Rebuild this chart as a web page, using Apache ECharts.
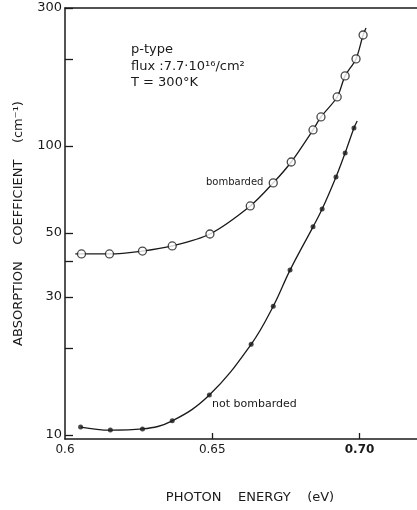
<!DOCTYPE html>
<html lang="en">
<head>
    <meta charset="UTF-8">
    <title>Absorption coefficient vs photon energy</title>
    <script src="https://cdn.jsdelivr.net/npm/echarts@6/dist/echarts.min.js"></script>
</head>
<style>
    html, body { margin: 0; padding: 0; background: #fff; }
    #chart { width: 417px; height: 510px; }
</style>
<body>
<div id="chart"></div>
<script>
    // photon energy (eV) / absorption coefficient (cm^-1)
    var bombX = [0.6056, 0.6151, 0.6263, 0.6364, 0.6492, 0.6629, 0.6707, 0.6768, 0.6842, 0.6869, 0.6924, 0.6951, 0.6988, 0.7012];
    var bombY = [42.3, 42.3, 43.3, 45.1, 49.6, 62.0, 74.5, 88.0, 113.6, 126, 147.7, 174.7, 200, 242];
    var notX = [0.6053, 0.6154, 0.6263, 0.6364, 0.6490, 0.6632, 0.6707, 0.6764, 0.6842, 0.6873, 0.6920, 0.6951, 0.6981];
    var notY = [10.66, 10.4, 10.5, 11.2, 13.75, 20.6, 27.9, 37.2, 52.5, 60.5, 78.1, 94.6, 115.4];
    // ends of the drawn fit curves
    var bombEnds = [[0.6035, 42.3], [0.7022, 256]];
    var notEnds = [[0.6053, 10.66], [0.6992, 122]];

    var xTicks = [0.65, 0.70];
    var xLabels = [0.6, 0.65, 0.70];
    var yTicks = [10, 20, 30, 40, 50, 100, 200, 300];
    var yLabels = [10, 30, 50, 100, 300];

    function pairs(xs, ys) {
        var out = [];
        for (var i = 0; i < xs.length; i++) out.push([xs[i], ys[i]]);
        return out;
    }
    var bombPts = pairs(bombX, bombY);
    var notPts = pairs(notX, notY);
    var bombCurve = [bombEnds[0]].concat(bombPts, [bombEnds[1]]);
    var notCurve = notPts.concat([notEnds[1]]);

    var ink = '#1a1a1a';
    var font = 'DejaVu Sans';
    var chart = echarts.init(document.getElementById('chart'));
    var option = {
        animation: false,
        backgroundColor: '#fff',
        grid: { left: 65, right: 0, top: 8, bottom: 71 },
        xAxis: [{
            type: 'value',
            min: 0.6,
            max: 0.7195,
            axisLine: { lineStyle: { color: ink, width: 1.5 } },
            axisTick: { inside: true, length: 6, customValues: xTicks, lineStyle: { color: ink, width: 1.3 } },
            axisLabel: {
                customValues: xLabels, margin: 5, color: ink, fontFamily: font, fontSize: 12,
                formatter: function (v) {
                    if (v === 0.6) return '0.6';
                    if (v > 0.69) return '{b|' + v.toFixed(2) + '}';
                    return v.toFixed(2);
                },
                rich: { b: { fontWeight: 'bold', fontFamily: font, fontSize: 12, color: ink } }
            },
            splitLine: { show: false },
            name: 'PHOTON    ENERGY    (eV)',
            nameLocation: 'middle',
            nameGap: 52,
            nameTextStyle: { color: ink, fontFamily: font, fontSize: 13, padding: [0, 0, 0, 18] }
        }, {
            type: 'value',
            position: 'top',
            min: 0.6,
            max: 0.7195,
            axisLine: { show: true, lineStyle: { color: ink, width: 1.5 } },
            axisTick: { show: false },
            axisLabel: { show: false },
            splitLine: { show: false }
        }],
        yAxis: {
            type: 'log',
            min: 9.69,
            max: 300,
            axisLine: { show: true, lineStyle: { color: ink, width: 1.5 } },
            axisTick: { inside: true, length: 8, customValues: yTicks, lineStyle: { color: ink, width: 1.3 } },
            axisLabel: { customValues: yLabels, margin: 3, color: ink, fontFamily: font, fontSize: 13 },
            splitLine: { show: false },
            minorTick: { show: false },
            name: 'ABSORPTION    COEFFICIENT    (cm⁻¹)',
            nameLocation: 'middle',
            nameGap: 40,
            nameTextStyle: { color: ink, fontFamily: font, fontSize: 13 }
        },
        series: [{
            type: 'line',
            data: bombCurve,
            smooth: 0.3,
            symbol: 'none',
            lineStyle: { color: ink, width: 1.3 }
        }, {
            type: 'line',
            data: notCurve,
            smooth: 0.4,
            symbol: 'none',
            lineStyle: { color: ink, width: 1.3 }
        }, {
            type: 'scatter',
            data: bombPts,
            symbol: 'circle',
            symbolSize: 8,
            itemStyle: { color: '#fff', borderColor: ink, borderWidth: 1.3 },
            z: 3
        }, {
            type: 'scatter',
            data: notPts,
            symbol: 'circle',
            symbolSize: 5,
            itemStyle: { color: ink },
            z: 3
        }],
        graphic: [
            { type: 'text', left: 131, top: 43, style: { text: 'p-type', fill: ink, font: '13px "DejaVu Sans"' } },
            { type: 'text', left: 131, top: 60, style: { text: 'flux :7.7·10¹⁶/cm²', fill: ink, font: '13px "DejaVu Sans"' } },
            { type: 'text', left: 131, top: 76, style: { text: 'T = 300°K', fill: ink, font: '13px "DejaVu Sans"' } },
            { type: 'text', left: 206, top: 177, style: { text: 'bombarded', fill: ink, font: '10px "DejaVu Sans"' } },
            { type: 'text', left: 212, top: 399, style: { text: 'not bombarded', fill: ink, font: '11px "DejaVu Sans"' } }
        ]
    };
    chart.setOption(option);
</script>
</body>
</html>
